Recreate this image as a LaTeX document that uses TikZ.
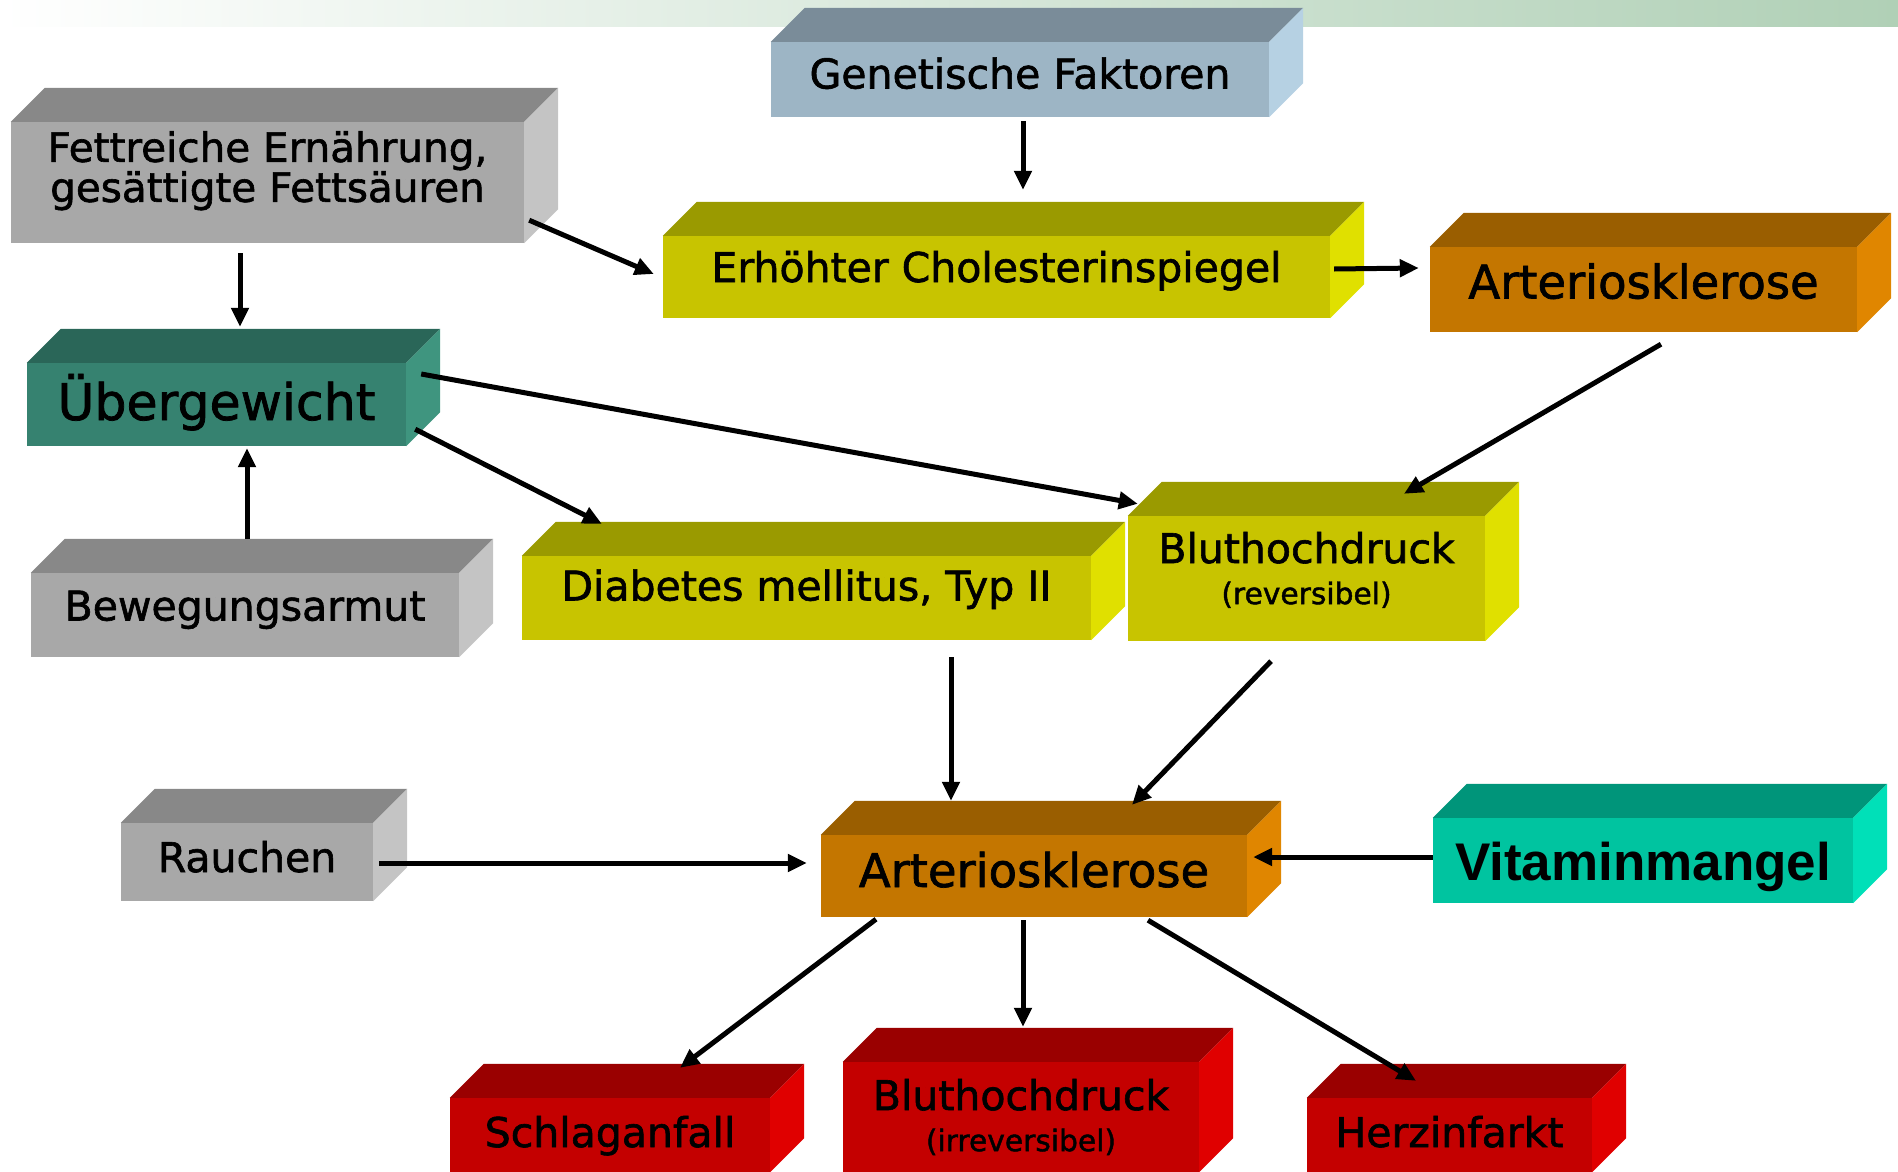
\documentclass[tikz,border=0pt]{standalone}
\usepackage{fontspec}
\setmainfont{DejaVu Sans}[FakeBold=1.5]
\newfontfamily\arialfont{Liberation Sans}
\usetikzlibrary{positioning,arrows.meta}

\definecolor{grauV}{RGB}{168,168,168}
\definecolor{grauD}{RGB}{136,136,136}
\definecolor{grauS}{RGB}{196,196,196}
\definecolor{blauV}{RGB}{157,181,197}
\definecolor{blauD}{RGB}{122,140,153}
\definecolor{blauS}{RGB}{182,209,227}
\definecolor{gruenV}{RGB}{54,130,112}
\definecolor{gruenD}{RGB}{42,102,88}
\definecolor{gruenS}{RGB}{63,149,127}
\definecolor{gelbV}{RGB}{200,196,0}
\definecolor{gelbD}{RGB}{154,154,0}
\definecolor{gelbS}{RGB}{224,224,0}
\definecolor{orangeV}{RGB}{196,118,0}
\definecolor{orangeD}{RGB}{154,94,0}
\definecolor{orangeS}{RGB}{224,134,0}
\definecolor{tuerkisV}{RGB}{0,196,160}
\definecolor{tuerkisD}{RGB}{0,149,122}
\definecolor{tuerkisS}{RGB}{0,224,184}
\definecolor{rotV}{RGB}{196,0,0}
\definecolor{rotD}{RGB}{154,0,0}
\definecolor{rotS}{RGB}{224,0,0}
\definecolor{band}{RGB}{176,208,182}

% Deckflaeche und rechte Seite eines Kastens
\newcommand{\seiten}[3]{%
	\fill[#2] (#1.north west) -- ++(34,-34) -- ([shift={(34,-34)}]#1.north east) -- (#1.north east) -- cycle;
	\fill[#3] (#1.north east) -- ++(34,-34) -- ([shift={(34,-34)}]#1.south east) -- (#1.south east) -- cycle;
}

\begin{document}
\begin{tikzpicture}[x=1pt,y=-1pt,>={Triangle[length=19pt,width=17pt]},on grid]
	\tikzstyle{kasten}=[rectangle,inner sep=0pt,text=black]
	\tikzstyle{normal}=[font=\fontsize{41}{38}\selectfont,text height=31pt]
	\tikzstyle{gross}=[font=\fontsize{46.5}{46}\selectfont,text height=35pt]
	\tikzstyle{zweizeilig}=[align=center,font=\fontsize{41}{41}\selectfont]
	\tikzstyle{pfeil}=[line width=5pt]

	\useasboundingbox (0,0) rectangle (1898,1172);
	\shade[left color=white,right color=band] (0,0) rectangle (1898,27);

	\node[kasten,normal,text depth=13pt,fill=blauV,minimum width=498pt,minimum height=75pt] (GENETIK) at (1020,79.5) {Genetische Faktoren};
	\node[kasten,normal,text depth=21pt,fill=gelbV,minimum width=667pt,minimum height=82pt] (CHOLESTERIN) [below left=197.5pt and 23.5pt of GENETIK] {Erhöhter Cholesterinspiegel};
	\node[kasten,align=center,font=\fontsize{40.5}{40}\selectfont,fill=grauV,minimum width=513pt,minimum height=121pt] (FETT) [below left=103pt and 752.5pt of GENETIK] {Fettreiche Ernährung,\\gesättigte Fettsäuren\rule[-32pt]{0pt}{32pt}};
	\node[kasten,gross,text depth=17pt,fill=orangeV,minimum width=427pt,minimum height=85pt] (ARTERIO1) [below right=12.5pt and 647pt of CHOLESTERIN] {Arteriosklerose};
	\node[kasten,font=\fontsize{50.5}{50}\selectfont,text height=38pt,text depth=7pt,fill=gruenV,minimum width=379pt,minimum height=83pt] (UEBERGEWICHT) [below left=222pt and 51pt of FETT] {Übergewicht};
	\node[kasten,normal,text depth=20pt,fill=grauV,minimum width=428pt,minimum height=84pt] (BEWEGUNG) [below right=210.5pt and 28.5pt of UEBERGEWICHT] {Bewegungsarmut};
	\node[kasten,normal,text depth=26pt,fill=gelbV,minimum width=569pt,minimum height=84pt] (DIABETES) [below left=321pt and 190pt of CHOLESTERIN] {Diabetes mellitus, Typ II};
	\node[kasten,zweizeilig,fill=gelbV,minimum width=357pt,minimum height=125pt] (BLUTDRUCK1) [above right=19.5pt and 500pt of DIABETES] {Bluthochdruck\\{\fontsize{29.7}{41}\selectfont(reversibel)}\rule[-21pt]{0pt}{21pt}};
	\node[kasten,gross,text depth=13pt,fill=orangeV,minimum width=426pt,minimum height=82pt] (ARTERIO2) [below right=278pt and 227.5pt of DIABETES] {Arteriosklerose};
	\node[kasten,normal,text depth=11pt,fill=grauV,minimum width=252pt,minimum height=78pt] (RAUCHEN) [above left=14pt and 787pt of ARTERIO2] {Rauchen};
	\node[kasten,font=\arialfont\bfseries\fontsize{53}{53}\selectfont,text height=39pt,text depth=0pt,fill=tuerkisV,minimum width=420pt,minimum height=85pt] (VITAMIN) [above right=15.5pt and 609pt of ARTERIO2] {Vitaminmangel};
	\node[kasten,zweizeilig,fill=rotV,minimum width=356pt,minimum height=110pt] (BLUTDRUCK2) [below left=241pt and 13pt of ARTERIO2] {Bluthochdruck\\{\fontsize{29.7}{41}\selectfont(irreversibel)}};
	\node[kasten,normal,text depth=7pt,fill=rotV,minimum width=320pt,minimum height=74pt] (SCHLAGANFALL) [below left=18pt and 411pt of BLUTDRUCK2] {Schlaganfall};
	\node[kasten,normal,text depth=7pt,fill=rotV,minimum width=285pt,minimum height=74pt] (HERZINFARKT) [below right=18pt and 428.5pt of BLUTDRUCK2] {Herzinfarkt};

	\seiten{GENETIK}{blauD}{blauS}
	\seiten{CHOLESTERIN}{gelbD}{gelbS}
	\seiten{FETT}{grauD}{grauS}
	\seiten{ARTERIO1}{orangeD}{orangeS}
	\seiten{UEBERGEWICHT}{gruenD}{gruenS}
	\seiten{BEWEGUNG}{grauD}{grauS}
	\seiten{DIABETES}{gelbD}{gelbS}
	\seiten{BLUTDRUCK1}{gelbD}{gelbS}
	\seiten{ARTERIO2}{orangeD}{orangeS}
	\seiten{RAUCHEN}{grauD}{grauS}
	\seiten{VITAMIN}{tuerkisD}{tuerkisS}
	\seiten{BLUTDRUCK2}{rotD}{rotS}
	\seiten{SCHLAGANFALL}{rotD}{rotS}
	\seiten{HERZINFARKT}{rotD}{rotS}

	\path[->,pfeil]	([shift={(3,4)}]GENETIK.south) edge ([shift={(26.5,-46)}]CHOLESTERIN.north)
				([shift={(5,-23)}]FETT.south east) edge ([shift={(-9,-3)}]CHOLESTERIN.west)
				([shift={(-27.5,10)}]FETT.south) edge ([shift={(23.5,-36)}]UEBERGEWICHT.north)
				([shift={(4,-8)}]CHOLESTERIN.east) edge ([shift={(-11,-21.5)}]ARTERIO1.west)
				([shift={(17.5,12)}]ARTERIO1.south) edge ([shift={(97.5,-22)}]BLUTDRUCK1.north)
				([shift={(15,-30.5)}]UEBERGEWICHT.east) edge ([shift={(10,-12)}]BLUTDRUCK1.north west)
				([shift={(9,-17)}]UEBERGEWICHT.south east) edge ([shift={(80,-32)}]DIABETES.north west)
				([shift={(2,-34)}]BEWEGUNG.north) edge ([shift={(30.5,2)}]UEBERGEWICHT.south)
				([shift={(144.5,17)}]DIABETES.south) edge ([shift={(-83,-34)}]ARTERIO2.north)
				([shift={(-35.5,20)}]BLUTDRUCK1.south) edge ([shift={(98,-30)}]ARTERIO2.north)
				([shift={(6,1)}]RAUCHEN.east) edge ([shift={(-14,-13)}]ARTERIO2.west)
				([shift={(0,-3.5)}]VITAMIN.west) edge ([shift={(6,-19)}]ARTERIO2.east)
				([shift={(-158,2)}]ARTERIO2.south) edge ([shift={(70,-30)}]SCHLAGANFALL.north)
				([shift={(-11,3)}]ARTERIO2.south) edge ([shift={(2,-35)}]BLUTDRUCK2.north)
				([shift={(114,3)}]ARTERIO2.south) edge ([shift={(-33.5,-17)}]HERZINFARKT.north);

\end{tikzpicture}
\end{document}
